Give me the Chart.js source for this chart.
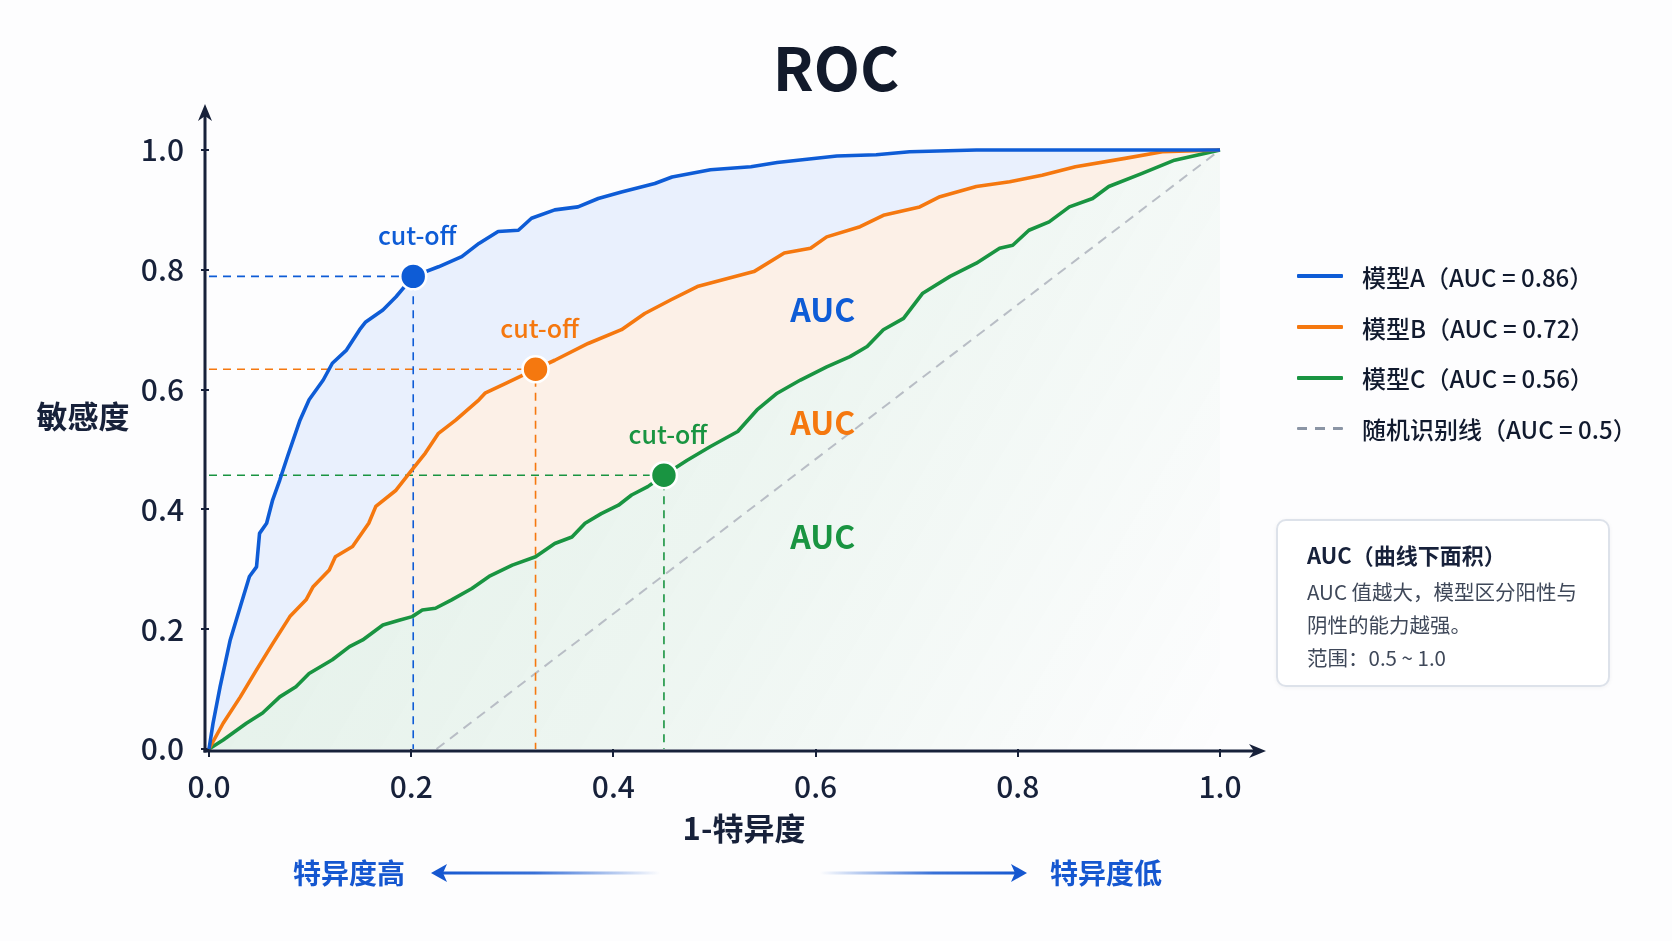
<!DOCTYPE html>
<html lang="zh-CN">
<head>
<meta charset="utf-8">
<title>ROC</title>
<script src="https://cdn.jsdelivr.net/npm/chart.js@4.4.1/dist/chart.umd.min.js"></script>
<style>
  html, body { margin: 0; padding: 0; background: #fdfdfe; }
  body { font-family: "Noto Sans CJK SC", "Noto Sans", sans-serif; color: #17213a; }
  #wrap { position: relative; width: 1672px; height: 941px; overflow: hidden; }
  #chartBox { position: absolute; left: 0; top: 0; width: 1672px; height: 941px; }
  .txt { position: absolute; white-space: nowrap; transform: translate(-50%, -50%); }
  #title { left: 836px; top: 64px; font-size: 60px; font-weight: bold; color: #121a2b; }
  #yTitle { left: 83px; top: 414px; font-size: 31px; font-weight: bold; }
  #xTitle { left: 744px; top: 826px; font-size: 31px; font-weight: bold; }
  .dir { font-size: 28px; font-weight: bold; color: #1557d0; top: 872px; }
  #legend { position: absolute; left: 1297px; top: 251px; }
  #legend .row { display: flex; align-items: center; height: 50.7px; }
  #legend .sw { width: 46px; height: 4px; margin-right: 19px; border-radius: 1px; }
  #legend .lbl { font-size: 24px; font-weight: 500; color: #111a2e; white-space: nowrap; }
  #info { position: absolute; left: 1276px; top: 519px; width: 334px; height: 168px; box-sizing: border-box;
          border: 2px solid #dde2ea; border-radius: 10px; background: #ffffff; padding: 17px 0 0 29px;
          box-shadow: 0 1px 4px rgba(20, 30, 60, 0.05); }
  #info .hd { font-size: 22px; font-weight: bold; color: #17213a; line-height: 32px; margin-bottom: 5px; }
  #info .bd { font-size: 20.5px; color: #3f4859; line-height: 33px; }
</style>
</head>
<body>
<div id="wrap">
  <div id="chartBox"><canvas id="rocChart"></canvas></div>

  <div id="title" class="txt">ROC</div>
  <div id="yTitle" class="txt">敏感度</div>
  <div id="xTitle" class="txt">1-特异度</div>
  <div class="txt dir" style="left:349px">特异度高</div>
  <div class="txt dir" style="left:1106px">特异度低</div>

  <svg width="1672" height="941" style="position:absolute;left:0;top:0;pointer-events:none">
    <defs>
      <linearGradient id="fadeL" x1="432" x2="660" y1="0" y2="0" gradientUnits="userSpaceOnUse">
        <stop offset="0" stop-color="#1557d0"/>
        <stop offset="0.45" stop-color="#1557d0" stop-opacity="0.85"/>
        <stop offset="1" stop-color="#1557d0" stop-opacity="0"/>
      </linearGradient>
      <linearGradient id="fadeR" x1="820" x2="1026" y1="0" y2="0" gradientUnits="userSpaceOnUse">
        <stop offset="0" stop-color="#1557d0" stop-opacity="0"/>
        <stop offset="0.55" stop-color="#1557d0" stop-opacity="0.85"/>
        <stop offset="1" stop-color="#1557d0"/>
      </linearGradient>
    </defs>
    <line x1="440" y1="873" x2="660" y2="873" stroke="url(#fadeL)" stroke-width="3"/>
    <path d="M431 873 L447 864 L443 873 L447 882 Z" fill="#1557d0"/>
    <line x1="820" y1="873" x2="1018" y2="873" stroke="url(#fadeR)" stroke-width="3"/>
    <path d="M1027 873 L1011 864 L1015 873 L1011 882 Z" fill="#1557d0"/>
  </svg>

  <div id="legend"></div>

  <div id="info">
    <div class="hd">AUC（曲线下面积）</div>
    <div class="bd">AUC 值越大，模型区分阳性与<br>阴性的能力越强。<br>范围：0.5 ~ 1.0</div>
  </div>
</div>

<script>
// ---------- DATA ----------
const modelLabels = [
  "模型A（AUC = 0.86）",
  "模型B（AUC = 0.72）",
  "模型C（AUC = 0.56）",
  "随机识别线（AUC = 0.5）",
];
const xTicks = [0, 0.2, 0.4, 0.6, 0.8, 1.0];
const yTicks = [0, 0.2, 0.4, 0.6, 0.8, 1.0];

// model A (blue)
const fprA = [0, 0.004, 0.011, 0.021, 0.031, 0.040, 0.047, 0.050, 0.057, 0.063, 0.070, 0.078, 0.090, 0.099,
  0.113, 0.122, 0.136, 0.149, 0.155, 0.172, 0.185, 0.202, 0.227, 0.250, 0.267, 0.286, 0.306, 0.319, 0.342,
  0.365, 0.385, 0.408, 0.441, 0.458, 0.496, 0.536, 0.562, 0.621, 0.660, 0.693, 0.759, 0.850, 0.920, 1.0];
const tprA = [0, 0.043, 0.104, 0.182, 0.238, 0.288, 0.304, 0.360, 0.377, 0.416, 0.449, 0.490, 0.549, 0.583,
  0.616, 0.644, 0.666, 0.700, 0.713, 0.733, 0.755, 0.789, 0.805, 0.822, 0.844, 0.864, 0.866, 0.886, 0.900,
  0.905, 0.919, 0.930, 0.944, 0.955, 0.967, 0.972, 0.979, 0.990, 0.992, 0.997, 1.0, 1.0, 1.0, 1.0];

// model B (orange)
const fprB = [0, 0.014, 0.031, 0.047, 0.063, 0.080, 0.096, 0.103, 0.119, 0.125, 0.142, 0.158, 0.165, 0.185,
  0.198, 0.214, 0.227, 0.244, 0.267, 0.273, 0.293, 0.323, 0.342, 0.375, 0.408, 0.431, 0.457, 0.483, 0.539,
  0.569, 0.595, 0.611, 0.644, 0.667, 0.703, 0.723, 0.759, 0.792, 0.824, 0.857, 0.906, 0.943, 1.0];
const tprB = [0, 0.043, 0.087, 0.132, 0.176, 0.221, 0.249, 0.271, 0.299, 0.321, 0.338, 0.377, 0.405, 0.432,
  0.460, 0.494, 0.527, 0.549, 0.583, 0.594, 0.610, 0.634, 0.649, 0.677, 0.700, 0.727, 0.750, 0.772, 0.797,
  0.828, 0.836, 0.855, 0.872, 0.891, 0.905, 0.922, 0.939, 0.947, 0.958, 0.972, 0.986, 0.997, 1.0];

// model C (green)
const fprC = [0, 0.014, 0.037, 0.053, 0.070, 0.086, 0.099, 0.122, 0.139, 0.152, 0.172, 0.188, 0.201, 0.211,
  0.224, 0.240, 0.260, 0.277, 0.300, 0.323, 0.342, 0.359, 0.372, 0.388, 0.405, 0.418, 0.434, 0.450, 0.473,
  0.496, 0.523, 0.542, 0.562, 0.585, 0.611, 0.634, 0.651, 0.667, 0.687, 0.706, 0.733, 0.759, 0.782, 0.795,
  0.811, 0.831, 0.851, 0.874, 0.890, 0.923, 0.955, 1.0];
const tprC = [0, 0.015, 0.043, 0.060, 0.087, 0.104, 0.126, 0.149, 0.171, 0.182, 0.207, 0.215, 0.221, 0.232,
  0.235, 0.249, 0.268, 0.288, 0.307, 0.321, 0.343, 0.354, 0.377, 0.393, 0.407, 0.424, 0.438, 0.457, 0.482,
  0.505, 0.530, 0.566, 0.594, 0.616, 0.638, 0.655, 0.672, 0.700, 0.719, 0.761, 0.789, 0.811, 0.836, 0.841,
  0.866, 0.880, 0.905, 0.919, 0.939, 0.961, 0.983, 1.0];

// random line as drawn in the picture
const fprRandom = [0.225, 1.0];
const tprRandom = [0, 1.0];

// cut-off points A, B, C
const cutoffFpr = [0.202, 0.323, 0.450];
const cutoffTpr = [0.789, 0.634, 0.457];

// ---------- STYLE ----------
const BLUE = "#0e5cd6";
const ORANGE = "#f5780f";
const GREEN = "#199441";
const GREY = "#b8bdc5";
const INK = "#17213a";
const FONT = '"Noto Sans CJK SC", "Noto Sans", sans-serif';
const modelColors = [BLUE, ORANGE, GREEN];

// ---------- HELPERS ----------
function toPoints(xs, ys) {
  return xs.map((x, i) => ({ x: x, y: ys[i] }));
}

function guideLine(i) {
  return [
    { x: 0, y: cutoffTpr[i] },
    { x: cutoffFpr[i], y: cutoffTpr[i] },
    { x: cutoffFpr[i], y: 0 },
  ];
}

// ---------- LEGEND (html) ----------
const legendEl = document.getElementById("legend");
modelLabels.forEach((name, i) => {
  const row = document.createElement("div");
  row.className = "row";
  const sw = document.createElement("div");
  sw.className = "sw";
  if (i < 3) sw.style.background = modelColors[i];
  else {
    sw.style.height = "3px";
    sw.style.background = "repeating-linear-gradient(to right, #8b95a5 0 10px, transparent 10px 18px)";
  }
  const lbl = document.createElement("div");
  lbl.className = "lbl";
  lbl.textContent = name;
  row.appendChild(sw);
  row.appendChild(lbl);
  legendEl.appendChild(row);
});

// ---------- PLUGIN: axes with arrows + annotations ----------
const rocDecor = {
  id: "rocDecor",
  afterDatasetsDraw(chart, args, opts) {
    const { ctx, scales } = chart;
    const xs = scales.x, ys = scales.y;
    ctx.save();
    ctx.textAlign = "center";
    ctx.textBaseline = "middle";

    // "AUC" region labels
    ctx.font = "bold 32px " + FONT;
    opts.aucY.forEach((v, i) => {
      ctx.fillStyle = modelColors[i];
      ctx.fillText("AUC", xs.getPixelForValue(opts.aucX), ys.getPixelForValue(v));
    });

    // cut-off labels above the points
    ctx.font = "500 25px " + FONT;
    cutoffFpr.forEach((v, i) => {
      ctx.fillStyle = modelColors[i];
      ctx.fillText("cut-off", xs.getPixelForValue(v) + 4, ys.getPixelForValue(cutoffTpr[i]) - 41);
    });
    ctx.restore();
  },
  afterDraw(chart) {
    const { ctx, chartArea: a } = chart;
    const ox = a.left - 4, oy = a.bottom + 2;
    ctx.save();
    ctx.strokeStyle = INK;
    ctx.fillStyle = INK;
    ctx.lineWidth = 3;
    ctx.lineCap = "butt";
    // y axis
    ctx.beginPath();
    ctx.moveTo(ox, oy + 1.5);
    ctx.lineTo(ox, a.top - 36);
    ctx.stroke();
    const ty = a.top - 46;
    ctx.beginPath();
    ctx.moveTo(ox, ty);
    ctx.lineTo(ox - 7, ty + 17);
    ctx.lineTo(ox, ty + 12);
    ctx.lineTo(ox + 7, ty + 17);
    ctx.closePath();
    ctx.fill();
    // x axis
    ctx.beginPath();
    ctx.moveTo(ox - 1.5, oy);
    ctx.lineTo(a.right + 36, oy);
    ctx.stroke();
    const tx = a.right + 46;
    ctx.beginPath();
    ctx.moveTo(tx, oy);
    ctx.lineTo(tx - 17, oy - 7);
    ctx.lineTo(tx - 12, oy);
    ctx.lineTo(tx - 17, oy + 7);
    ctx.closePath();
    ctx.fill();
    ctx.restore();
  },
};

// ---------- CHART ----------
function greenFill(context) {
  const chart = context.chart;
  const a = chart.chartArea;
  if (!a) return "rgba(30,150,70,0.08)";
  const g = chart.ctx.createLinearGradient(a.left, a.top, a.right, a.bottom);
  g.addColorStop(0, "rgba(30,150,70,0.13)");
  g.addColorStop(0.55, "rgba(30,150,70,0.07)");
  g.addColorStop(1, "rgba(30,150,70,0)");
  return g;
}

const lineBase = { type: "line", pointRadius: 0, tension: 0, clip: false, borderJoinStyle: "round" };

new Chart(document.getElementById("rocChart"), {
  data: {
    datasets: [
      Object.assign({}, lineBase, {
        label: modelLabels[0], data: toPoints(fprA, tprA), borderColor: BLUE, borderWidth: 3.6,
        fill: "+1", backgroundColor: "rgba(70,140,245,0.11)", order: 1,
      }),
      Object.assign({}, lineBase, {
        label: modelLabels[1], data: toPoints(fprB, tprB), borderColor: ORANGE, borderWidth: 3.6,
        fill: "+1", backgroundColor: "rgba(248,140,50,0.11)", order: 2,
      }),
      Object.assign({}, lineBase, {
        label: modelLabels[2], data: toPoints(fprC, tprC), borderColor: GREEN, borderWidth: 3.6,
        fill: "origin", backgroundColor: greenFill, order: 3,
      }),
      Object.assign({}, lineBase, {
        label: modelLabels[3], data: toPoints(fprRandom, tprRandom), borderColor: GREY, borderWidth: 2,
        borderDash: [10, 7], fill: false, order: 6,
      }),
      Object.assign({}, lineBase, {
        label: "guide A", data: guideLine(0), borderColor: BLUE, borderWidth: 1.6, borderDash: [8, 6], fill: false, order: 5,
      }),
      Object.assign({}, lineBase, {
        label: "guide B", data: guideLine(1), borderColor: ORANGE, borderWidth: 1.6, borderDash: [8, 6], fill: false, order: 5,
      }),
      Object.assign({}, lineBase, {
        label: "guide C", data: guideLine(2), borderColor: GREEN, borderWidth: 1.6, borderDash: [8, 6], fill: false, order: 5,
      }),
      {
        type: "scatter", label: "cut-off", data: toPoints(cutoffFpr, cutoffTpr),
        pointRadius: 13, pointBorderWidth: 2.6, pointBorderColor: "#ffffff",
        pointBackgroundColor: modelColors, clip: false, order: 0,
      },
    ],
  },
  options: {
    responsive: true,
    maintainAspectRatio: false,
    animation: false,
    events: [],
    layout: { padding: { left: 129, top: 150, right: 452, bottom: 132 } },
    scales: {
      x: {
        type: "linear", min: 0, max: 1,
        afterBuildTicks: (s) => { s.ticks = xTicks.map((v) => ({ value: v })); },
        afterFit: (s) => { s.height = 60; },
        ticks: { color: INK, font: { size: 30, family: FONT, weight: "500" }, padding: 12, maxRotation: 0,
          callback: (v) => Number(v).toFixed(1) },
        grid: { drawOnChartArea: false, drawTicks: true, tickLength: 8, color: INK, lineWidth: 2 },
        border: { display: false },
      },
      y: {
        type: "linear", min: 0, max: 1,
        afterBuildTicks: (s) => { s.ticks = yTicks.map((v) => ({ value: v })); },
        afterFit: (s) => { s.width = 80; },
        ticks: { color: INK, font: { size: 30, family: FONT, weight: "500" }, padding: 17,
          callback: (v) => Number(v).toFixed(1) },
        grid: { drawOnChartArea: false, drawTicks: true, tickLength: 8, color: INK, lineWidth: 2 },
        border: { display: false },
      },
    },
    plugins: {
      legend: { display: false },
      tooltip: { enabled: false },
      filler: { drawTime: "beforeDatasetsDraw" },
      rocDecor: { aucX: 0.607, aucY: [0.733, 0.544, 0.354] },
    },
  },
  plugins: [rocDecor],
});
</script>
</body>
</html>
